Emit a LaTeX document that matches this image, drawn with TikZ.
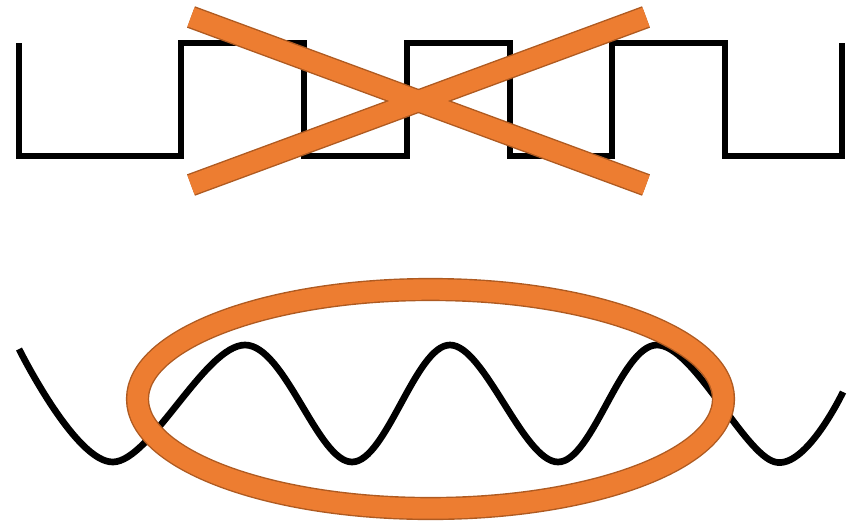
\documentclass[tikz,border=0pt]{standalone}
\usepackage{xcolor}
\usepackage{tikz}
\definecolor{markorange}{HTML}{ED7D31}
\definecolor{markedge}{HTML}{AE5A21}
\tikzset{
  signal/.style={line width=3.8pt, line cap=butt, line join=miter},
  markrim/.style={markedge, line width=#1, line cap=butt},
  markfill/.style={markorange, line width=#1, line cap=butt}
}

\begin{document}
\begin{tikzpicture}[x=0.02cm, y=-0.02cm]
\useasboundingbox (0,0) rectangle (861,524);
% square wave
\draw[signal] (19,43) -- (19,156) -- (181,156) -- (181,43) -- (304,43) -- (304,156)
  -- (407,156) -- (407,43) -- (510,43) -- (510,156) -- (612,156) -- (612,43)
  -- (725,43) -- (725,156) -- (842,156) -- (842,43);
% smooth wave
\draw[signal, line join=round] plot[smooth, tension=0.6] coordinates {(19,349) (113,462) (245,345) (352,462) (450,345) (558,462) (657,345) (775,462) (843,392)};
% cross over the square wave
\draw[markrim=13pt] (191,17) -- (646,185);
\draw[markrim=13pt] (191,185) -- (646,17);
\draw[markfill=11.4pt] (191,17) -- (646,185);
\draw[markfill=11.4pt] (191,185) -- (646,17);
% ring round the smooth wave
\draw[markrim=13.2pt] (430.5,399) ellipse [x radius=293, y radius=109.5];
\draw[markfill=11.6pt] (430.5,399) ellipse [x radius=293, y radius=109.5];
\end{tikzpicture}
\end{document}
